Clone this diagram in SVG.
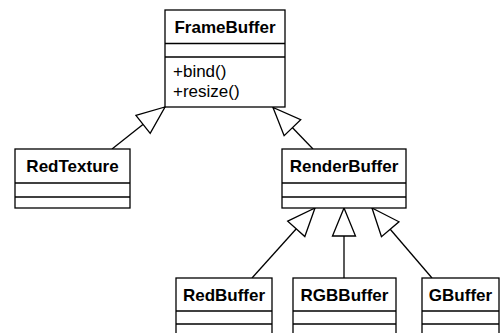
<svg xmlns="http://www.w3.org/2000/svg" width="501" height="333" viewBox="0 0 501 333">
<style>
.box{fill:#fff;stroke:#000;stroke-width:1.3}
.div{stroke:#000;stroke-width:1.3}
.t{font-family:"Liberation Sans",Arial,sans-serif;font-size:17px;font-weight:bold;text-anchor:middle;fill:#000}
.m{font-family:"Liberation Sans",Arial,sans-serif;font-size:17px;fill:#000}
.c{stroke:#000;stroke-width:1.3;fill:none;marker-end:url(#tri)}
</style>
<defs>
<marker id="tri" markerUnits="userSpaceOnUse" markerWidth="32" markerHeight="28" refX="29" refY="12.5" orient="auto" overflow="visible">
<path d="M1,1 L29,12.5 L1,24 Z" fill="#fff" stroke="#000" stroke-width="1.3"/>
</marker>
</defs>
<rect width="501" height="333" fill="#fff"/>
<g id="connectors">
<line class="c" x1="112" y1="149" x2="165" y2="107"/>
<line class="c" x1="313" y1="149" x2="273" y2="107.5"/>
<line class="c" x1="252" y1="278" x2="315" y2="208"/>
<line class="c" x1="344" y1="278" x2="344" y2="208"/>
<line class="c" x1="432" y1="278" x2="372" y2="208"/>
</g>
<g id="FrameBuffer">
<rect class="box" x="165" y="10" width="120" height="97"/>
<line class="div" x1="165" y1="43.5" x2="285" y2="43.5"/>
<line class="div" x1="165" y1="57" x2="285" y2="57"/>
<text class="t" x="225" y="33">FrameBuffer</text>
<text class="m" x="173" y="77">+bind()</text>
<text class="m" x="173" y="97">+resize()</text>
</g>
<g id="RedTexture">
<rect class="box" x="15" y="149" width="115" height="59"/>
<line class="div" x1="15" y1="183" x2="130" y2="183"/>
<line class="div" x1="15" y1="197" x2="130" y2="197"/>
<text class="t" x="72.5" y="172">RedTexture</text>
</g>
<g id="RenderBuffer">
<rect class="box" x="282" y="149" width="124" height="59"/>
<line class="div" x1="282" y1="183" x2="406" y2="183"/>
<line class="div" x1="282" y1="197" x2="406" y2="197"/>
<text class="t" x="344" y="172">RenderBuffer</text>
</g>
<g id="RedBuffer">
<rect class="box" x="176" y="278" width="96" height="60"/>
<line class="div" x1="176" y1="311" x2="272" y2="311"/>
<line class="div" x1="176" y1="324" x2="272" y2="324"/>
<text class="t" x="224" y="301">RedBuffer</text>
</g>
<g id="RGBBuffer">
<rect class="box" x="293" y="278" width="103" height="60"/>
<line class="div" x1="293" y1="311" x2="396" y2="311"/>
<line class="div" x1="293" y1="324" x2="396" y2="324"/>
<text class="t" x="344.5" y="301">RGBBuffer</text>
</g>
<g id="GBuffer">
<rect class="box" x="422" y="278" width="77" height="60"/>
<line class="div" x1="422" y1="311" x2="499" y2="311"/>
<line class="div" x1="422" y1="324" x2="499" y2="324"/>
<text class="t" x="460.5" y="301">GBuffer</text>
</g>
</svg>
